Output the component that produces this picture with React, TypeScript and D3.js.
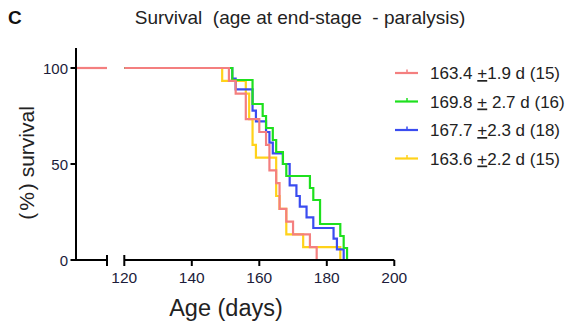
import React from "react";
import * as d3 from "d3";

const groupNames = ["red", "green", "blue", "yellow"];
const groupColors = ["#f47f7f", "#1ee01e", "#3a4cf0", "#ffd21a"];
const legendMean = ["163.4", "169.8", "167.7", "163.6"];
const legendSem = ["1.9", " 2.7", "2.3", "2.2"];
const legendN = [15, 16, 18, 15];
// ages at end-stage (days) per group
const redDeaths = [151, 153, 156, 156, 160, 162, 163, 163, 165, 166, 166, 168, 170, 175, 177];
const greenDeaths = [152, 158, 158, 161, 162, 164, 165, 167, 168, 175, 176, 178, 178, 184, 185, 186];
const blueDeaths = [152, 153, 158, 158, 159, 162, 163, 164, 167, 169, 169, 171, 172, 174, 176, 182, 183, 185];
const yellowDeaths = [149, 156, 157, 157, 158, 158, 159, 165, 165, 165, 166, 168, 168, 173, 184];
const xTicks = [120, 140, 160, 180, 200];
const yTicks = [0, 50, 100];

const FONT = "'Liberation Sans', Arial, sans-serif";

function km(deaths: number[], start: number): [number, number][] {
  const n = deaths.length;
  const counts = d3.rollups(deaths, (v) => v.length, (d) => d).sort((a, b) => a[0] - b[0]);
  let atRisk = n;
  let s = 100;
  const pts: [number, number][] = [[start, 100]];
  for (const [day, c] of counts) {
    s = s * (atRisk - c) / atRisk;
    atRisk -= c;
    pts.push([day, s]);
  }
  return pts;
}

export default function App() {
  const W = 570, H = 324;
  const y = d3.scaleLinear().domain([0, 100]).range([260, 68]);
  const xL = d3.scaleLinear().domain([0, 10]).range([76, 107]);
  const x = d3.scaleLinear().domain([120, 200]).range([124.3, 394.3]);
  const all = [redDeaths, greenDeaths, blueDeaths, yellowDeaths];
  const drawOrder = [3, 2, 1, 0];
  const line = d3.line<[number, number]>().x((d) => x(d[0])).y((d) => y(d[1])).curve(d3.curveStepAfter);
  const lineL = d3.line<[number, number]>().x((d) => xL(d[0])).y((d) => y(d[1]));
  const legendY = [73, 101.5, 130, 158.5];

  return (
    <svg width={W} height={H} style={{ position: "absolute", left: 0, top: 0, background: "#fff" }} fontFamily={FONT}>
      <text x={8} y={24} fontSize={19} fontWeight="bold" fill="#111">C</text>
      <text x={300} y={24} fontSize={19} textAnchor="middle" fill="#222" style={{ whiteSpace: "pre" }}>
        {"Survival  (age at end-stage  - paralysis)"}
      </text>

      {/* curves */}
      <path d={lineL([[0, 100], [10, 100]]) || ""} fill="none" stroke={groupColors[0]} strokeWidth={2.2} />
      {drawOrder.map((gi) => (
        <path key={groupNames[gi]} d={line(km(all[gi], 120)) || ""} fill="none" stroke={groupColors[gi]} strokeWidth={2.2} />
      ))}

      {/* y axis */}
      <line x1={76} x2={76} y1={48} y2={261} stroke="#000" strokeWidth={2} />
      {yTicks.map((t) => (
        <g key={t}>
          <line x1={70.5} x2={76} y1={y(t)} y2={y(t)} stroke="#000" strokeWidth={2} />
          <text x={68} y={y(t) + 5.5} fontSize={15} textAnchor="end" fill="#1c1c3a">{t}</text>
        </g>
      ))}
      <text transform={`translate(34,163) rotate(-90)`} fontSize={21} textAnchor="middle" fill="#222">
        (<tspan dx={2}>%</tspan><tspan dx={2}>)</tspan> survival
      </text>

      {/* x axis left segment */}
      <line x1={75} x2={xL(10)} y1={260} y2={260} stroke="#000" strokeWidth={2} />
      <line x1={xL(10)} x2={xL(10)} y1={255} y2={266} stroke="#000" strokeWidth={2} />
      {/* x axis right segment */}
      <line x1={x(120)} x2={x(200)} y1={260} y2={260} stroke="#000" strokeWidth={2} />
      {xTicks.map((t) => (
        <g key={t}>
          <line x1={x(t)} x2={x(t)} y1={t === 120 ? 255 : 260} y2={266} stroke="#000" strokeWidth={2} />
          <text x={x(t)} y={283} fontSize={15.5} textAnchor="middle" fill="#1c1c3a">{t}</text>
        </g>
      ))}
      <text x={226} y={316} fontSize={23.5} textAnchor="middle" fill="#222">Age (days)</text>

      {/* legend */}
      {groupNames.map((g, i) => (
        <g key={g}>
          <line x1={395} x2={418} y1={legendY[i]} y2={legendY[i]} stroke={groupColors[i]} strokeWidth={2.2} />
          <line x1={407} x2={407} y1={legendY[i] - 3.5} y2={legendY[i]} stroke={groupColors[i]} strokeWidth={1.5} />
          <text x={430} y={legendY[i] + 6} fontSize={17} fill="#222" style={{ whiteSpace: "pre" }}>
            {legendMean[i]}{" "}
            <tspan textDecoration="underline">+</tspan>
            {legendSem[i]}{" d ("}{legendN[i]}{")"}
          </text>
        </g>
      ))}
    </svg>
  );
}
